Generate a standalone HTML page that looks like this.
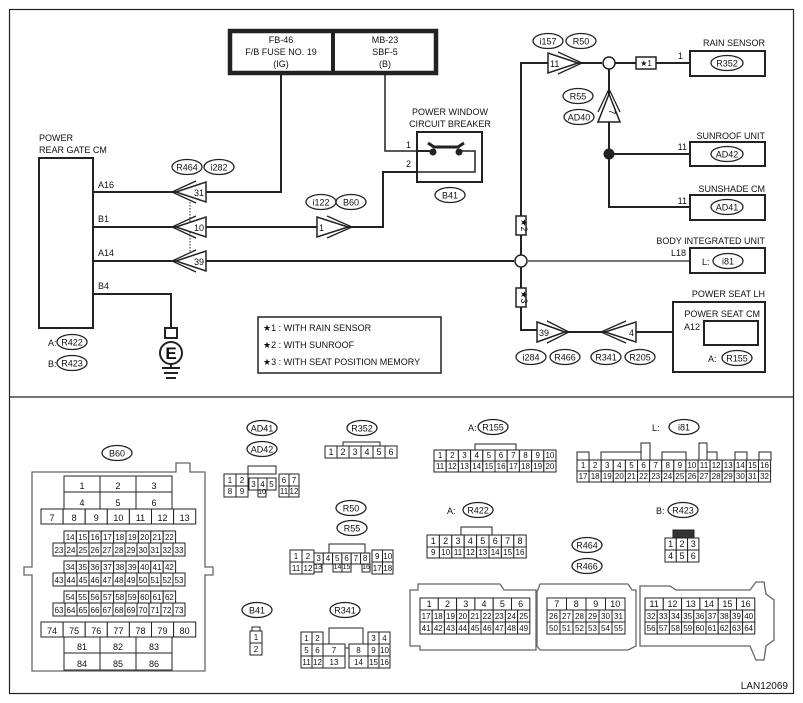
<!DOCTYPE html>
<html><head><meta charset="utf-8"><style>
body{margin:0;background:#fff;}
svg{display:block;font-family:"Liberation Sans",Arial,sans-serif;}
text{font-size:9px;fill:#111;}
</style></head><body>
<svg id="s" width="803" height="703" viewBox="0 0 803 703" xmlns="http://www.w3.org/2000/svg">
<rect x="0" y="0" width="803" height="703" fill="#fff"/>
<rect x="9.5" y="9.5" width="784" height="684" fill="none" stroke="#222" stroke-width="1.2"/>
<line x1="9" y1="397" x2="793" y2="397" stroke="#222" stroke-width="1.2"/>
<g id="g" stroke="#222" fill="none" stroke-width="2"></g>
<g id="t"></g>
</svg>
<script>
const NS="http://www.w3.org/2000/svg",G=document.getElementById('g'),T=document.getElementById('t');
function el(p,tag,a){const e=document.createElementNS(NS,tag);for(const k in a)e.setAttribute(k,a[k]);p.appendChild(e);return e;}
function L(pts,w){el(G,'polyline',{points:pts,'stroke-width':w||2});}
function R(x,y,w,h,sw,fill){el(G,'rect',{x:x,y:y,width:w,height:h,'stroke-width':sw||2,fill:fill||'none'});}
function tx(x,y,s,anchor,size,rot){const e=el(T,'text',{x:x,y:y,'text-anchor':anchor||'start'});if(size)e.setAttribute('style','font-size:'+size+'px');if(rot)e.setAttribute('transform',rot);e.textContent=s;return e;}
function ov(x,y,s,w){w=w||30;el(G,'ellipse',{cx:x,cy:y,rx:w/2,ry:7.5,'stroke-width':1.3,fill:'#fff'});tx(x,y+3.5,s,'middle',9);}
function triL(t,b,y,n){el(G,'polygon',{points:`${t},${y} ${b},${y-10} ${b},${y+10}`,'stroke-width':1.5,fill:'#fff'});L(`${b-10},${y-11} ${t-4},${y} ${b-10},${y+11}`,1.3);tx(b-2,y+4,n,'end',9);}
function triR(t,b,y,n){el(G,'polygon',{points:`${t},${y} ${b},${y-10} ${b},${y+10}`,'stroke-width':1.5,fill:'#fff'});L(`${b+10},${y-11} ${t+4},${y} ${b+10},${y+11}`,1.3);tx(b+2,y+4,n,'start',9);}
// fuse box
R(230,31,206,42,4.5);L('333,31 333,73',4);
tx(281,43,'FB-46','middle');tx(281,55,'F/B FUSE NO. 19','middle');tx(281,67,'(IG)','middle');
tx(385,43,'MB-23','middle');tx(385,55,'SBF-5','middle');tx(385,67,'(B)','middle');
L('281,73 281,192 206,192');
L('385,73 385,151 417,151',1.5);
// rear gate CM
tx(39,141,'POWER');tx(39,153,'REAR GATE CM');
R(39,158,54,170,2);
tx(98,188,'A16');tx(98,222,'B1');tx(98,256,'A14');tx(98,289,'B4');
L('93,192 176,192');L('93,227 176,227');L('93,261 176,261');L('93,294 171,294 171,328');
el(G,'line',{x1:190,y1:202,x2:190,y2:252,'stroke-width':1,'stroke-dasharray':'1.5,1.5'});
triL(176,206,192,'31');triL(176,206,227,'10');triL(176,206,261,'39');
ov(187,167,'R464');ov(219,167,'i282');ov(321,202,'i122');ov(351,202,'B60');
L('206,227 317,227');triR(348,317,227,'1');L('348,227 383,227 383,172 417,172');
// ground
R(165,328,12,10,2);el(G,'circle',{cx:171,cy:353,r:11,'stroke-width':2});
tx(171,359,'E','middle',16).setAttribute('style','font-size:17px;font-weight:bold');
L('171,364 171,368',2);L('162,368 180,368',2);L('164,373 178,373',2);L('166,378 176,378',2);
tx(48,346,'A:');tx(48,367,'B:');ov(72,342,'R422');ov(72,363,'R423');
// legend
R(258,317,183,56,1.5);
tx(263,331,'★1 : WITH RAIN SENSOR');tx(263,348,'★2 : WITH SUNROOF');tx(263,365,'★3 : WITH SEAT POSITION MEMORY');
// breaker
tx(450,115,'POWER WINDOW','middle');tx(450,127,'CIRCUIT BREAKER','middle');
R(417,132,65,50,2);
L('417,151 433,151');L('428,143 434,147 458,147 464,143',3);el(G,'circle',{cx:433,cy:152,r:2.5,fill:'#222'});el(G,'circle',{cx:459,cy:152,r:2.5,fill:'#222'});
L('460,151 475,151 475,172 417,172',1.5);
tx(406,148,'1');tx(406,167,'2');ov(450,195,'B41');
// main bus
L('206,261 514,261');L('528,261 690,261',1.3);
el(G,'circle',{cx:521,cy:261,r:6,'stroke-width':1.5,fill:'#fff'});
L('521,255 521,63 548,63');L('521,267 521,330 537,330');
R(516,216,10,19,1.5,'#fff');tx(521,225,'★2','middle',9,'rotate(90 521 225)');
R(516,288,10,19,1.5,'#fff');tx(521,297,'★3','middle',9,'rotate(90 521 297)');
triR(578,548,63,'11');L('578,63 602,63');
el(G,'circle',{cx:609,cy:63,r:6,'stroke-width':1.5,fill:'#fff'});
L('615,63 636,63');R(636,57,20,12,1.5);tx(646,66,'★1','middle',8);L('656,63 690,63');
R(690,51,75,25,2);tx(683,59,'1','end');tx(765,46,'RAIN SENSOR','end');ov(727,63,'R352',32);
ov(548,41,'i157');ov(581,41,'R50');ov(578,96,'R55');ov(579,117,'AD40',30);
L('609,69 609,207 690,207');
el(G,'polygon',{points:`609,94 598,122 620,122`,'stroke-width':1.5,fill:'#fff'});L('598,112 609,89 620,112',1.3);
tx(609,112,'7','middle',9,'rotate(90 609 112)');
el(G,'circle',{cx:609,cy:154,r:5,fill:'#222','stroke-width':1});L('609,154 690,154');
R(690,142,75,24,2);tx(687,150,'11','end');tx(765,139,'SUNROOF UNIT','end');ov(727,154,'AD42',32);
R(690,195,75,25,2);tx(687,204,'11','end');tx(765,192,'SUNSHADE CM','end');ov(727,207,'AD41',32);
R(690,248,75,25,2);tx(686,256,'L18','end');tx(765,244,'BODY INTEGRATED UNIT','end');tx(702,265,'L:');ov(728,261,'i81',30);
// power seat
L('565,332 605,332');triR(565,537,332,'39');triL(605,636,332,'4');L('636,332 673,332');
R(673,302,92,70,2);tx(765,297,'POWER SEAT LH','end');tx(760,317,'POWER SEAT CM','end');tx(684,330,'A12');
R(704,321,54,24,2);tx(708,362,'A:');ov(737,358,'R155',30);
ov(531,357,'i284');ov(565,357,'R466');ov(606,357,'R341');ov(640,357,'R205');
// ---- connectors
function row(x,y,ws,h,labels,fs){let cx=x;ws.forEach((w,i)=>{R(cx,y,w,h,1,'#fff');if(labels[i]!=='')tx(cx+w/2,y+h-3,labels[i],'middle',fs||8);cx+=w;});}
function eq(x,y,n,w,h,start,fs){const ws=[],lb=[];for(let i=0;i<n;i++){ws.push(w);lb.push(String(start+i));}row(x,y,ws,h,lb,fs);}
// B60
el(G,'polygon',{points:'32,472 176,472 176,463 190,463 190,472 205,472 205,567 213,567 213,575 205,575 205,671 32,671 32,575 24,575 24,567 32,567',stroke:'#666','stroke-width':1.3,fill:'#fff'});
ov(117,453,'B60');
eq(64,476,3,36,16,1,9);eq(64,492,3,36,17,4,9);eq(41,509,7,22.1,15,7,9);
eq(64,531,9,12.4,12,14,8);eq(53,543,11,12,13,23,8);
eq(64,561,9,12.4,12,34,8);eq(53,573,11,12,13,43,8);
eq(64,591,9,12.4,12,54,8);eq(53,603,11,12,13,63,8);
eq(41,622,7,22.1,15,74,9);eq(64,637,3,36,16,81,9);eq(64,653,3,36,17,84,9);
// AD41/42
ov(262,428,'AD41');ov(262,449,'AD42');
R(248,466,28,8,1);
row(224,474,[12,12],12,['1','2']);row(249,478,[9,9,9],12,['3','4','5']);row(279,474,[10,10],12,['6','7']);
row(224,486,[12,12],11,['8','9']);row(258,490,[8],7,['10'],7);row(279,486,[10,10],11,['11','12']);
// R352
ov(362,428,'R352');R(343,442,37,4,1);eq(325,446,6,12,12,1,9);
// R50 R55
ov(351,508,'R50');ov(352,528,'R55');R(329,544,36,9,1);
row(290,550,[12,12],12,['1','2']);row(314,553,[9.3,9.3,9.3,9.3,9.3,9.3],11,['3','4','5','6','7','8']);row(372,550,[10.5,10.5],12,['9','10']);
row(290,562,[12,12],12,['11','12']);row(314,564,[8],8,['13'],7);row(333,564,[9,9],8,['14','15'],7);row(362,564,[8],8,['16'],7);row(372,562,[10.5,10.5],12,['17','18']);
// B41
ov(257,610,'B41');R(252,627,8,4,1);row(250,631,[12],12,['1']);row(250,643,[12],12,['2']);
// R341
ov(345,610,'R341');R(329,628,34,20,1);
row(301,632,[11,11],12,['1','2']);row(368,632,[11,11],12,['3','4']);
row(301,644,[11,11,22],12,['5','6','7']);row(349,644,[19,11,11],12,['8','9','10']);
row(301,656,[11,11,22],12,['11','12','13']);row(349,656,[19,11,11],12,['14','15','16']);
// R155
tx(468,431,'A:');ov(493,427,'R155');R(475,444,41,6,1);
eq(434,450,10,12.2,11,1,8);eq(434,461,10,12.2,11,11,8);
// i81
tx(652,431,'L:');ov(684,427,'i81');
R(577,452,12,8,1);R(601,452,40,8,1);R(641,443,9,17,1);R(662,452,24,8,1);R(699,443,8,17,1);R(707,452,10,8,1);R(735,452,12,8,1);R(759,452,12,8,1);
eq(577,460,16,12.1,11,1,8);eq(577,471,16,12.1,11,17,8);
// R422
tx(447,514,'A:');ov(478,510,'R422');R(461,527,31,8,1);
eq(427,535,8,12.4,12,1,9);eq(427,547,8,12.4,11,9,8);
// R423
tx(656,514,'B:');ov(683,510,'R423');R(673,530,21,8,1,'#333');
eq(665,538,3,11.3,12,1,9);eq(665,550,3,11.3,12,4,9);
// R464/466
ov(587,545,'R464');ov(587,566,'R466');
// big connector
el(G,'polygon',{points:'410,590 418,590 418,584 500,584 504,590 536,590 536,650 420,650 420,646 410,646',stroke:'#666','stroke-width':1.3,fill:'#fff'});
el(G,'polygon',{points:'537,592 540,584 628,584 632,590 636,590 636,646 628,650 540,650 537,646',stroke:'#666','stroke-width':1.3,fill:'#fff'});
el(G,'polygon',{points:'640,590 640,586 670,586 676,590 750,590 756,582 764,582 766,594 774,600 774,640 766,646 764,660 756,660 750,646 640,646',stroke:'#666','stroke-width':1.3,fill:'#fff'});
eq(420,598,6,18.3,12,1,9);eq(420,610,9,12.2,12,17,8);eq(420,622,9,12.2,12,41,8);
eq(547,598,4,19.5,12,7,9);eq(547,610,6,13,12,26,8);eq(547,622,6,13,12,50,8);
eq(645,598,6,18.3,12,11,9);eq(645,610,9,12.2,12,32,8);eq(645,622,9,12.2,12,56,8);
tx(788,689,'LAN12069','end',10);
</script>
</body></html>
